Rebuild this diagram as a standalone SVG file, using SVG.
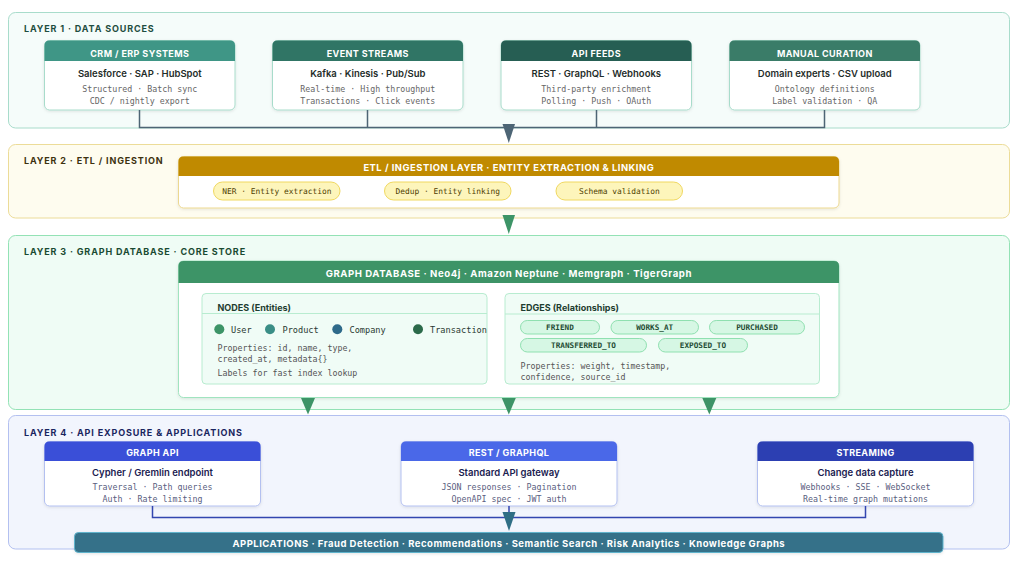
<svg xmlns="http://www.w3.org/2000/svg" width="1024" height="562" viewBox="0 0 1024 562">
<defs>
<filter id="sh" x="-5%" y="-10%" width="110%" height="130%">
<feDropShadow dx="0" dy="1" stdDeviation="1.5" flood-color="#000" flood-opacity="0.10"/>
</filter>
<style>
.lay{font-family:Inter,"Liberation Sans",sans-serif;font-weight:700;font-size:9px;letter-spacing:0.85px}
.hd{font-family:Inter,"Liberation Sans",sans-serif;font-weight:700;font-size:9px;letter-spacing:0.4px;fill:#fff;text-anchor:middle}
.bd{font-family:Inter,"Liberation Sans",sans-serif;font-weight:600;font-size:9.5px;text-anchor:middle}
.mn{font-family:"DejaVu Sans Mono","Liberation Mono",monospace;font-size:8.3px;text-anchor:middle}
.mnl{font-family:"DejaVu Sans Mono","Liberation Mono",monospace;font-size:8.3px}
.card{fill:#fff;filter:url(#sh)}
.pill{font-family:"DejaVu Sans Mono","Liberation Mono",monospace;font-size:7.9px;text-anchor:middle}
.ep{fill:#d6f7e4;stroke:#8fe0b0;stroke-width:1}
.ept{font-family:"DejaVu Sans Mono","Liberation Mono",monospace;font-weight:700;font-size:7.7px;text-anchor:middle;fill:#1f4d35}
.sub{font-family:Inter,"Liberation Sans",sans-serif;font-weight:700;font-size:9px;fill:#1e3d30}
.nl{font-family:"DejaVu Sans Mono","Liberation Mono",monospace;font-size:8.6px;fill:#2a3a33}
</style>
</defs>

<!-- Layer panels -->
<g id="layer1">
<rect x="8.5" y="12.5" width="1001" height="115.5" rx="7" fill="#f5fcfa" stroke="#a8dccb"/>
<text class="lay" x="24" y="31.5" fill="#1e4d40">LAYER 1 · DATA SOURCES</text>
</g>
<g id="layer2">
<rect x="8.5" y="144.5" width="1001" height="73.5" rx="7" fill="#fefcef" stroke="#ecdc98"/>
<text class="lay" x="24" y="163.5" fill="#3d3210">LAYER 2 · ETL / INGESTION</text>
</g>
<g id="layer3">
<rect x="8.5" y="235.5" width="1001" height="174" rx="7" fill="#effcf5" stroke="#93e2b5"/>
<text class="lay" x="24" y="254.5" fill="#1a4a32">LAYER 3 · GRAPH DATABASE · CORE STORE</text>
</g>
<g id="layer4">
<rect x="8.5" y="415.5" width="1001" height="133.5" rx="7" fill="#f2f5fd" stroke="#b3c0f0"/>
<text class="lay" x="24" y="435.5" fill="#1a2560">LAYER 4 · API EXPOSURE &amp; APPLICATIONS</text>
</g>

<!-- Layer 1 cards -->
<g id="crm">
<rect class="card" x="44.5" y="40.5" width="190.5" height="69.5" rx="5" stroke="#a8dccb"/>
<path d="M44.5,61 V45.5 Q44.5,40.5 49.5,40.5 H230 Q235,40.5 235,45.5 V61 Z" fill="#3f9686"/>
<text class="hd" x="139.8" y="56.5">CRM / ERP SYSTEMS</text>
<text class="bd" x="139.8" y="76.5" fill="#1f2d2a">Salesforce · SAP · HubSpot</text>
<text class="mn" x="139.8" y="92" fill="#666">Structured · Batch sync</text>
<text class="mn" x="139.8" y="103.5" fill="#666">CDC / nightly export</text>
</g>
<g id="events">
<rect class="card" x="272.5" y="40.5" width="190.5" height="69.5" rx="5" stroke="#a8dccb"/>
<path d="M272.5,61 V45.5 Q272.5,40.5 277.5,40.5 H458 Q463,40.5 463,45.5 V61 Z" fill="#307565"/>
<text class="hd" x="367.8" y="56.5">EVENT STREAMS</text>
<text class="bd" x="367.8" y="76.5" fill="#1f2d2a">Kafka · Kinesis · Pub/Sub</text>
<text class="mn" x="367.8" y="92" fill="#666">Real-time · High throughput</text>
<text class="mn" x="367.8" y="103.5" fill="#666">Transactions · Click events</text>
</g>
<g id="apifeeds">
<rect class="card" x="501" y="40.5" width="190.5" height="69.5" rx="5" stroke="#a8dccb"/>
<path d="M501,61 V45.5 Q501,40.5 506,40.5 H686.5 Q691.5,40.5 691.5,45.5 V61 Z" fill="#265e53"/>
<text class="hd" x="596.3" y="56.5">API FEEDS</text>
<text class="bd" x="596.3" y="76.5" fill="#1f2d2a">REST · GraphQL · Webhooks</text>
<text class="mn" x="596.3" y="92" fill="#666">Third-party enrichment</text>
<text class="mn" x="596.3" y="103.5" fill="#666">Polling · Push · OAuth</text>
</g>
<g id="manual">
<rect class="card" x="729.5" y="40.5" width="190.5" height="69.5" rx="5" stroke="#a8dccb"/>
<path d="M729.5,61 V45.5 Q729.5,40.5 734.5,40.5 H915 Q920,40.5 920,45.5 V61 Z" fill="#3a7c68"/>
<text class="hd" x="824.8" y="56.5">MANUAL CURATION</text>
<text class="bd" x="824.8" y="76.5" fill="#1f2d2a">Domain experts · CSV upload</text>
<text class="mn" x="824.8" y="92" fill="#666">Ontology definitions</text>
<text class="mn" x="824.8" y="103.5" fill="#666">Label validation · QA</text>
</g>

<!-- Layer 2 ETL -->
<g id="etl">
<rect class="card" x="178.5" y="156.5" width="660.5" height="51.5" rx="5" stroke="#ecd890"/>
<path d="M178.5,176 V161.5 Q178.5,156.5 183.5,156.5 H834 Q839,156.5 839,161.5 V176 Z" fill="#c08a00"/>
<text class="hd" x="508.8" y="170.5" style="font-size:9.4px;letter-spacing:0.5px">ETL / INGESTION LAYER · ENTITY EXTRACTION &amp; LINKING</text>
<rect x="213.5" y="182" width="126.5" height="18" rx="9" fill="#fdf5bb" stroke="#f0d860"/>
<text class="pill" x="276.8" y="194" fill="#4d3d00">NER · Entity extraction</text>
<rect x="384.5" y="182" width="126.5" height="18" rx="9" fill="#fdf5bb" stroke="#f0d860"/>
<text class="pill" x="447.8" y="194" fill="#4d3d00">Dedup · Entity linking</text>
<rect x="556" y="182" width="126.5" height="18" rx="9" fill="#fdf5bb" stroke="#f0d860"/>
<text class="pill" x="619.3" y="194" fill="#4d3d00">Schema validation</text>
</g>

<!-- Layer 3 Graph DB -->
<g id="graphdb">
<rect class="card" x="178.5" y="261" width="660.5" height="136.5" rx="5" stroke="#a0e4bf"/>
<path d="M178.5,283 V266 Q178.5,261 183.5,261 H834 Q839,261 839,266 V283 Z" fill="#3d9467"/>
<text class="hd" x="508.8" y="276.5" style="font-size:9.6px;letter-spacing:0.55px">GRAPH DATABASE · Neo4j · Amazon Neptune · Memgraph · TigerGraph</text>
</g>
<g id="nodes">
<rect x="202" y="293.5" width="285" height="90.5" rx="4" fill="#f0fcf6" stroke="#b8ecd0"/>
<line x1="202" y1="313.5" x2="487" y2="313.5" stroke="#b8ecd0"/>
<text class="sub" x="217.5" y="310.5">NODES (Entities)</text>
<circle cx="219.3" cy="329.3" r="5" fill="#3d9467"/>
<text class="nl" x="231" y="332.5">User</text>
<circle cx="270" cy="329.3" r="5" fill="#3a8e86"/>
<text class="nl" x="282.5" y="332.5">Product</text>
<circle cx="337.3" cy="329.3" r="5" fill="#2e6a8a"/>
<text class="nl" x="349.5" y="332.5">Company</text>
<circle cx="418" cy="329.3" r="5" fill="#2b6a4a"/>
<text class="nl" x="430" y="332.5">Transaction</text>
<text class="mnl" x="217.5" y="350.5" fill="#555">Properties: id, name, type,</text>
<text class="mnl" x="217.5" y="362" fill="#555">created_at, metadata{}</text>
<text class="mnl" x="217.5" y="376" fill="#555">Labels for fast index lookup</text>
</g>
<g id="edges">
<rect x="505" y="293.5" width="314.5" height="90.5" rx="4" fill="#f0fcf6" stroke="#b8ecd0"/>
<line x1="505" y1="314" x2="819.5" y2="314" stroke="#b8ecd0"/>
<text class="sub" x="520.5" y="310.5">EDGES (Relationships)</text>
<rect class="ep" x="520.5" y="320.5" width="79" height="13.5" rx="6.75"/>
<text class="ept" x="560" y="330">FRIEND</text>
<rect class="ep" x="611" y="320.5" width="87.5" height="13.5" rx="6.75"/>
<text class="ept" x="654.7" y="330">WORKS_AT</text>
<rect class="ep" x="709.5" y="320.5" width="95" height="13.5" rx="6.75"/>
<text class="ept" x="757" y="330">PURCHASED</text>
<rect class="ep" x="520.5" y="338.5" width="126" height="13.5" rx="6.75"/>
<text class="ept" x="583.5" y="348">TRANSFERRED_TO</text>
<rect class="ep" x="658.5" y="338.5" width="89" height="13.5" rx="6.75"/>
<text class="ept" x="703" y="348">EXPOSED_TO</text>
<text class="mnl" x="520.5" y="368.5" fill="#555">Properties: weight, timestamp,</text>
<text class="mnl" x="520.5" y="380" fill="#555">confidence, source_id</text>
</g>

<!-- Layer 4 cards -->
<g id="graphapi">
<rect class="card" x="44.5" y="441.5" width="216" height="64.5" rx="5" stroke="#b3c0f0"/>
<path d="M44.5,461 V446.5 Q44.5,441.5 49.5,441.5 H255.5 Q260.5,441.5 260.5,446.5 V461 Z" fill="#3a4fd8"/>
<text class="hd" x="152.5" y="456">GRAPH API</text>
<text class="bd" x="152.5" y="475.5" fill="#1a2050">Cypher / Gremlin endpoint</text>
<text class="mn" x="152.5" y="489.5" fill="#5a6080">Traversal · Path queries</text>
<text class="mn" x="152.5" y="501.5" fill="#5a6080">Auth · Rate limiting</text>
</g>
<g id="restapi">
<rect class="card" x="401" y="441.5" width="216" height="64.5" rx="5" stroke="#b3c0f0"/>
<path d="M401,461 V446.5 Q401,441.5 406,441.5 H612 Q617,441.5 617,446.5 V461 Z" fill="#4a68e8"/>
<text class="hd" x="509" y="456">REST / GRAPHQL</text>
<text class="bd" x="509" y="475.5" fill="#1a2050">Standard API gateway</text>
<text class="mn" x="509" y="489.5" fill="#5a6080">JSON responses · Pagination</text>
<text class="mn" x="509" y="501.5" fill="#5a6080">OpenAPI spec · JWT auth</text>
</g>
<g id="streaming">
<rect class="card" x="757.5" y="441.5" width="216" height="64.5" rx="5" stroke="#b3c0f0"/>
<path d="M757.5,461 V446.5 Q757.5,441.5 762.5,441.5 H968.5 Q973.5,441.5 973.5,446.5 V461 Z" fill="#2c3fb2"/>
<text class="hd" x="865.5" y="456">STREAMING</text>
<text class="bd" x="865.5" y="475.5" fill="#1a2050">Change data capture</text>
<text class="mn" x="865.5" y="489.5" fill="#5a6080">Webhooks · SSE · WebSocket</text>
<text class="mn" x="865.5" y="501.5" fill="#5a6080">Real-time graph mutations</text>
</g>

<!-- Connectors -->
<g id="connectors">
<path d="M139.5,110 V127.5 H824.5 V110 M367.5,110 V127.5 M596.5,110 V127.5" fill="none" stroke="#4d6575" stroke-width="1.5"/>
<polygon points="502.5,124 515,124 508.8,143" fill="#4d6575"/>
<polygon points="502.5,215 515,215 508.8,234" fill="#3d9467"/>
<polygon points="301,398 315,398 308,414.5" fill="#3d9467"/>
<polygon points="501.8,398 515.8,398 508.8,414.5" fill="#3d9467"/>
<polygon points="702.3,398 716.3,398 709.3,414.5" fill="#3d9467"/>
<path d="M152.5,506 V517.5 H865.5 V506 M509,506 V513" fill="none" stroke="#3346b0" stroke-width="1.5"/>
<polygon points="502.5,512 515.5,512 509,531" fill="#2f6e85"/>
</g>

<g id="applications">
<rect x="74.5" y="532.5" width="868.5" height="20" rx="4" fill="#347189" stroke="#5fb3cc" filter="url(#sh)"/>
<text class="hd" x="508.8" y="546.5" style="font-size:9.5px;letter-spacing:0.5px">APPLICATIONS · Fraud Detection · Recommendations · Semantic Search · Risk Analytics · Knowledge Graphs</text>
</g>
</svg>
